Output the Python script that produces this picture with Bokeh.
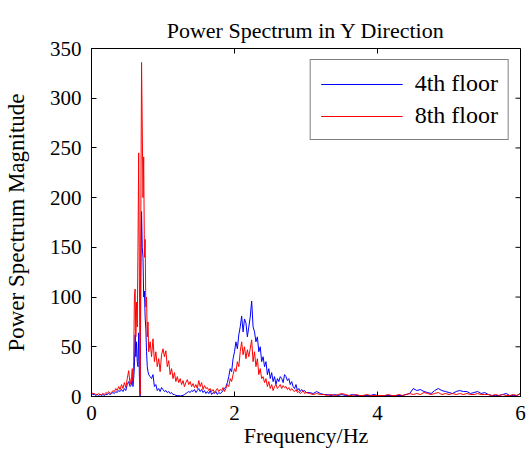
import numpy as np
from bokeh.plotting import figure
from bokeh.models import Range1d, FixedTicker, Legend, LegendItem
from bokeh.embed import file_html
from bokeh.resources import INLINE

# ---------------- data ----------------
# frequency grid (Hz): finer around the main peak
freq = np.round(np.concatenate([
    np.arange(0.00, 0.55, 0.02),   # 28 pts
    np.arange(0.56, 0.805, 0.01),  # 25 pts
    np.arange(0.82, 3.005, 0.02),  # 110 pts
    np.arange(3.05, 6.005, 0.05),  # 60 pts
]), 3)

floor4 = [
    # 0.00 - 0.54
    3, 2, 2, 1, 2, 1, 2, 1, 2, 1, 2, 2, 3, 2, 3, 4, 3, 5, 4, 6, 5, 7, 5, 8, 6, 12, 15, 10,
    # 0.56 - 0.80
    12, 20, 10, 18, 30, 62, 40, 55, 35, 30, 64, 20, 0, 120, 186, 150, 140, 100, 106, 80, 68, 45, 30, 25, 22,
    # 0.82 - 3.00
    20, 18, 22, 10, 12, 6, 8, 5, 9, 7,
    5, 6, 4, 5, 3, 4, 2, 2, 1, 1,
    1, 0.5, 1, 1, 2, 3, 4, 5, 4, 6,
    5, 7, 4, 6, 8, 5, 7, 4, 6, 3,
    5, 3, 6, 2, 4, 3, 5, 2, 4, 3,
    4, 6, 8, 10, 14, 20, 28, 25, 38, 45,
    55, 48, 62, 70, 81, 65, 78, 74, 60, 70,
    80, 96, 70, 65, 55, 60, 45, 50, 35, 40,
    30, 35, 22, 28, 18, 24, 15, 20, 12, 18,
    15, 20, 18, 14, 22, 20, 16, 18, 12, 15,
    10, 8, 12, 6, 8, 5, 7, 5, 6, 4,
    # 3.05 - 6.00
    4, 3, 5, 3, 2, 2, 1, 2, 1, 2,
    1, 1, 2, 1, 1, 1, 1, 1, 2, 1,
    1, 1, 1, 1, 1, 1, 1, 2, 3, 8,
    6, 7, 5, 4, 3, 6, 8, 6, 5, 4,
    3, 5, 6, 5, 5, 3, 4, 5, 3, 4,
    2, 1, 1, 1, 2, 3, 1, 1, 1, 3,
]

floor8 = [
    # 0.00 - 0.54
    4, 3, 3, 2, 2, 3, 2, 2, 3, 2, 4, 3, 5, 3, 4, 6, 5, 8, 6, 10, 7, 12, 8, 14, 9, 18, 26, 12,
    # 0.56 - 0.80
    20, 28, 15, 35, 100, 108, 60, 95, 70, 150, 245, 120, 2, 180, 336, 270, 200, 241, 140, 158, 90, 100, 60, 75, 45,
    # 0.82 - 3.00
    55, 40, 58, 35, 45, 30, 38, 25, 42, 48,
    40, 46, 30, 36, 22, 28, 18, 24, 15, 20,
    14, 18, 12, 16, 10, 14, 17, 12, 15, 10,
    13, 9, 12, 8, 16, 10, 14, 7, 11, 8,
    9, 6, 8, 5, 7, 4, 6, 8, 5, 7,
    6, 9, 5, 8, 12, 10, 18, 15, 22, 28,
    25, 35, 30, 45, 55, 42, 50, 38, 47, 40,
    48, 57, 35, 45, 30, 38, 22, 28, 18, 20,
    14, 18, 10, 15, 8, 12, 6, 10, 12, 8,
    10, 12, 8, 11, 9, 10, 7, 9, 6, 8,
    6, 5, 7, 4, 5, 3, 4, 6, 3, 4,
    # 3.05 - 6.00
    3, 2, 3, 2, 2, 1, 2, 1, 2, 3,
    2, 1, 1, 2, 1, 1, 2, 1, 1, 1,
    1, 1, 2, 1, 1, 2, 1, 2, 3, 2,
    3, 2, 4, 3, 2, 3, 4, 2, 3, 2,
    3, 2, 3, 2, 3, 2, 2, 3, 2, 2,
    2, 1, 2, 1, 2, 1, 1, 2, 1, 3,
]

series_names = ["4th floor", "8th floor"]
x_ticks = [0, 2, 4, 6]
y_ticks = [0, 50, 100, 150, 200, 250, 300, 350]
x_lim = (0, 6)
y_lim = (0, 350)

# ---------------- figure ----------------
FONT = "Liberation Serif"

p = figure(frame_width=429, frame_height=348,
           x_range=Range1d(*x_lim), y_range=Range1d(*y_lim),
           output_backend="svg", toolbar_location=None,
           title="Power Spectrum in Y Direction",
           min_border_left=91, min_border_right=6,
           min_border_top=48, min_border_bottom=58,
           background_fill_color="white", border_fill_color="white")

p.title.text_font = FONT
p.title.text_font_size = "22px"
p.title.text_font_style = "normal"
p.title.text_color = "black"
p.title.align = "center"
p.title.standoff = 12

p.xgrid.visible = False
p.ygrid.visible = False
p.outline_line_color = "black"
p.outline_line_width = 1

for ax, ticks in ((p.xaxis[0], x_ticks), (p.yaxis[0], y_ticks)):
    ax.ticker = FixedTicker(ticks=ticks)
    ax.major_tick_in = 5
    ax.major_tick_out = 0
    ax.minor_tick_line_color = None
    ax.axis_line_color = "black"
    ax.major_tick_line_color = "black"
    ax.major_label_text_font = FONT
    ax.major_label_text_color = "black"
    ax.major_label_text_font_size = "21px"
    ax.axis_label_text_font = FONT
    ax.axis_label_text_font_style = "normal"
    ax.axis_label_text_color = "black"

p.xaxis[0].axis_label = "Frequency/Hz"
p.yaxis[0].axis_label = "Power Spectrum Magnitude"
p.xaxis[0].axis_label_text_font_size = "22px"
p.yaxis[0].axis_label_text_font_size = "23px"
p.xaxis[0].major_label_standoff = 9
p.yaxis[0].major_label_standoff = 10
p.xaxis[0].axis_label_standoff = 0
p.yaxis[0].axis_label_standoff = 18

# mirrored inward ticks on the top and right edges of the box
p.ray(x=x_ticks, y=[y_lim[1]] * len(x_ticks), length=5, length_units="screen",
      angle=-np.pi / 2, line_color="black", line_width=1)
p.ray(x=[x_lim[1]] * len(y_ticks), y=y_ticks, length=5, length_units="screen",
      angle=np.pi, line_color="black", line_width=1)

r4 = p.line(freq, floor4, line_color="#0000FF", line_width=1)
r8 = p.line(freq, floor8, line_color="#FF0000", line_width=1)

legend = Legend(items=[LegendItem(label=series_names[0], renderers=[r4]),
                       LegendItem(label=series_names[1], renderers=[r8])],
                location="top_right")
legend.label_text_font = FONT
legend.label_text_font_size = "24px"
legend.label_text_color = "black"
legend.glyph_width = 82
legend.label_standoff = 12
legend.padding = 10
legend.spacing = 5
legend.margin = 11
legend.border_line_color = "black"
legend.border_line_width = 1
legend.background_fill_color = "white"
legend.background_fill_alpha = 1
p.add_layout(legend, "center")

open("out.html", "w").write(file_html(p, INLINE))
